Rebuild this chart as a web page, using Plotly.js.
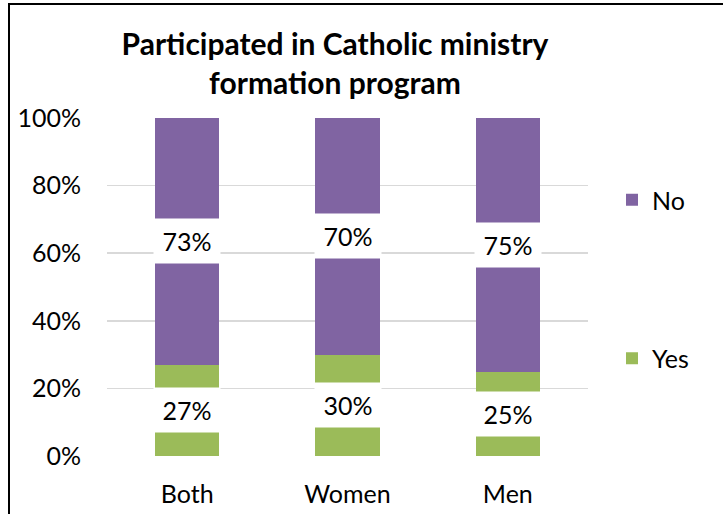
<!DOCTYPE html>
<html>
<head>
<meta charset="utf-8">
<script src="https://cdn.plot.ly/plotly-3.0.1.min.js"></script>
<style>
  html, body { margin: 0; padding: 0; background: #fff; }
  #chart { position: absolute; left: 0; top: 0; width: 723px; height: 514px; }
  #frame { position: absolute; left: 8px; top: 3px; width: 800px; height: 600px;
           border-left: 2px solid #000; border-top: 2px solid #000; pointer-events: none; }
</style>
</head>
<body>
<div id="chart"></div>
<div id="frame"></div>
<script>
const categories = ['Both', 'Women', 'Men'];
const yesValues = [27, 30, 25];
const noValues = [73, 70, 75];
const seriesNames = ['Yes', 'No'];
const titleText = 'Participated in Catholic ministry<br>formation program';

const FONT = 'Lato, "Open Sans", sans-serif';
const GREEN = '#9BBB59';
const PURPLE = '#8064A2';

const traces = [
  { type: 'bar', name: seriesNames[0], x: categories, y: yesValues,
    marker: { color: GREEN }, width: 0.4, legendgroup: 'yes', legendrank: 2, hoverinfo: 'none' },
  { type: 'bar', name: seriesNames[1], x: categories, y: noValues,
    marker: { color: PURPLE }, width: 0.4, legendgroup: 'no', legendrank: 1, hoverinfo: 'none' }
];

const annotations = [];
categories.forEach((c, i) => {
  annotations.push({ x: c, y: yesValues[i] / 2, xref: 'x', yref: 'y',
    text: yesValues[i] + '%', showarrow: false, bgcolor: '#fff',
    width: 64, height: 42, font: { family: FONT, size: 25, color: '#000' } });
  annotations.push({ x: c, y: yesValues[i] + noValues[i] / 2, xref: 'x', yref: 'y',
    text: noValues[i] + '%', showarrow: false, bgcolor: '#fff',
    width: 64, height: 42, font: { family: FONT, size: 25, color: '#000' } });
});

const layout = {
  width: 723, height: 514,
  margin: { l: 107, r: 135, t: 118, b: 58 },
  paper_bgcolor: '#fff', plot_bgcolor: '#fff',
  barmode: 'stack',
  font: { family: FONT, size: 25, color: '#000' },
  title: { text: titleText, x: 335 / 723, xanchor: 'center', xref: 'container',
           y: 1 - 55 / 514, yanchor: 'middle', yref: 'container',
           font: { family: FONT, size: 30, weight: 700, color: '#000' } },
  xaxis: { showgrid: false, showline: false, zeroline: false, ticks: '',
           ticklabelstandoff: 21, tickfont: { family: FONT, size: 25 } },
  yaxis: { range: [0, 100], dtick: 20, ticksuffix: '%', showgrid: true,
           gridcolor: '#d9d9d9', gridwidth: 1.5, zeroline: false, showline: false,
           ticks: '', ticklabelstandoff: 25, tickfont: { family: FONT, size: 25 } },
  showlegend: true,
  legend: { x: 612 / 723, xref: 'container', xanchor: 'left',
            y: 1 - 177 / 514, yref: 'container', yanchor: 'top',
            traceorder: 'grouped', tracegroupgap: 123,
            font: { family: FONT, size: 25, color: '#000' }, bgcolor: 'rgba(0,0,0,0)' },
  annotations: annotations
};

Plotly.newPlot('chart', traces, layout, { displayModeBar: false, staticPlot: true });
</script>
</body>
</html>
